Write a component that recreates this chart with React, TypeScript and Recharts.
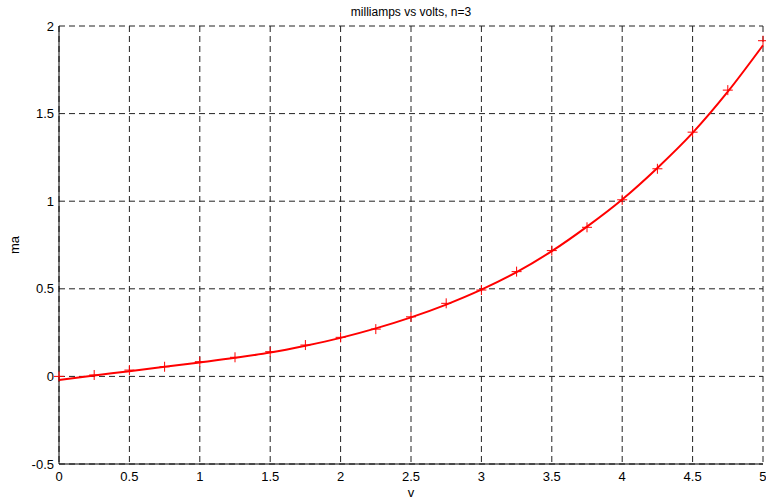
import React from "react";
import {
  ComposedChart,
  Line,
  XAxis,
  YAxis,
  CartesianGrid,
} from "recharts";

// volts sampled every 0.25 V
const volts = [0, 0.25, 0.5, 0.75, 1, 1.25, 1.5, 1.75, 2, 2.25, 2.5, 2.75, 3, 3.25, 3.5, 3.75, 4, 4.25, 4.5, 4.75, 5];
// measured milliamps (the "+" markers)
const measured = [0, 0.008, 0.036, 0.055, 0.084, 0.109, 0.141, 0.179, 0.223, 0.27, 0.34, 0.417, 0.493, 0.598, 0.718, 0.851, 1.008, 1.185, 1.394, 1.634, 1.916];
// cubic fit curve (solid line)
const fitted = [-0.02, 0.005, 0.03, 0.055, 0.08, 0.106, 0.136, 0.175, 0.22, 0.274, 0.337, 0.41, 0.495, 0.595, 0.715, 0.855, 1.01, 1.19, 1.39, 1.625, 1.89];

const xTicks = [0, 0.5, 1, 1.5, 2, 2.5, 3, 3.5, 4, 4.5, 5];
const yTicks = [-0.5, 0, 0.5, 1, 1.5, 2];

const data = volts.map((v, i) => ({ v, ma: measured[i], fit: fitted[i] }));

const font = "'Liberation Sans', Arial, sans-serif";

const PlusDot = (props: any) => {
  const { cx, cy, index } = props;
  if (cx == null || cy == null) return <g key={`p-${index}`} />;
  return (
    <path
      key={`p-${index}`}
      d={`M${cx - 5},${cy}H${cx + 5}M${cx},${cy - 5}V${cy + 5}`}
      stroke="#ff0000"
      strokeWidth={1}
      fill="none"
    />
  );
};

export default function App() {
  return (
    <div style={{ position: "absolute", left: 0, top: 0, width: 766, height: 502, background: "#fff", fontFamily: font }}>
      <ComposedChart
        width={766}
        height={502}
        data={data}
        margin={{ top: 26, right: 3, bottom: 0, left: 0 }}
      >
        <CartesianGrid stroke="#222" strokeDasharray="6 4" horizontalValues={yTicks} verticalValues={xTicks} />
        <XAxis
          dataKey="v"
          type="number"
          domain={[0, 5]}
          ticks={xTicks}
          height={38}
          axisLine={{ stroke: "#000" }}
          tickLine={false}
          tickSize={0}
          tickMargin={8}
          tick={{ fill: "#000", fontSize: 13, fontFamily: font }}
        />
        <XAxis
          xAxisId="top"
          orientation="top"
          dataKey="v"
          type="number"
          domain={[0, 5]}
          height={0}
          tick={false}
          tickLine={false}
          axisLine={{ stroke: "#000" }}
        />
        <YAxis
          type="number"
          domain={[-0.5, 2]}
          ticks={yTicks}
          width={59}
          axisLine={{ stroke: "#000" }}
          tickLine={false}
          tickSize={0}
          tickMargin={5}
          tick={{ fill: "#000", fontSize: 13, fontFamily: font }}
        />
        <YAxis
          yAxisId="right"
          orientation="right"
          type="number"
          domain={[-0.5, 2]}
          width={0}
          tick={false}
          tickLine={false}
          axisLine={{ stroke: "#000" }}
        />
        <Line
          dataKey="fit"
          type="monotone"
          stroke="#ff0000"
          strokeWidth={2}
          dot={false}
          isAnimationActive={false}
        />
        <Line
          dataKey="ma"
          stroke="none"
          dot={PlusDot}
          activeDot={false}
          isAnimationActive={false}
        />
      </ComposedChart>
      <div style={{ position: "absolute", left: 59, width: 704, top: 5, textAlign: "center", fontSize: 12 }}>
        milliamps vs volts, n=3
      </div>
      <div style={{ position: "absolute", left: 59, width: 704, top: 485, textAlign: "center", fontSize: 13 }}>
        v
      </div>
      <div
        style={{
          position: "absolute",
          left: 14,
          top: 245,
          fontSize: 13,
          transform: "translate(-50%, -50%) rotate(-90deg)",
        }}
      >
        ma
      </div>
    </div>
  );
}
